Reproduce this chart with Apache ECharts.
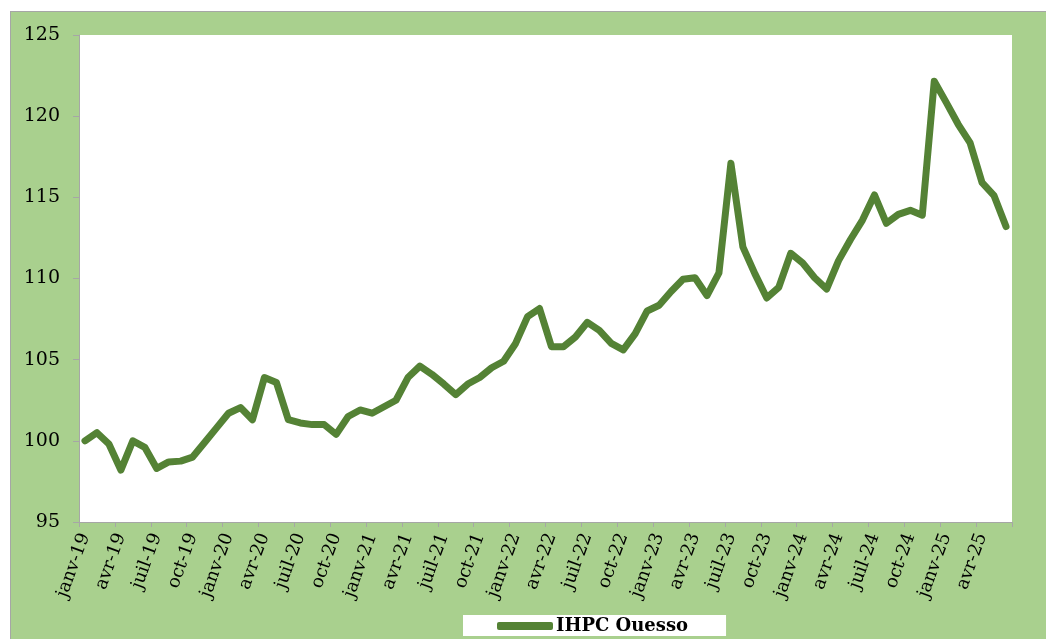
<!DOCTYPE html>
<html>
<head>
<meta charset="utf-8">
<script src="https://cdn.jsdelivr.net/npm/echarts@6/dist/echarts.min.js"></script>
<style>
  html, body { margin: 0; padding: 0; background: #ffffff; overflow: hidden; }
  #frame {
    position: absolute; left: 10px; top: 11px;
    width: 1100px; height: 700px;
    background: #a9d08e; border: 1px solid #a6a6a6;
  }
  #chart { position: absolute; left: 0; top: 0; width: 1046px; height: 639px; }
</style>
</head>
<body>
<div id="frame"></div>
<div id="chart"></div>
<script>
// ======================
// DONNÉES
// ======================
const MONTHS = ["janv", "févr", "mars", "avr", "mai", "juin",
                "juil", "août", "sept", "oct", "nov", "déc"];
const YEARS = ["19", "20", "21", "22", "23", "24", "25"];
const N_POINTS = 78; // janv-19 -> juin-25

// IHPC Ouesso (base 100 = janv-19)
const ihpcOuesso = [
    100.0, 100.5, 99.8, 98.2, 100.0, 99.6, 98.3, 98.7, 98.75, 99.0, 99.9, 100.8,
    101.7, 102.05, 101.3, 103.9, 103.6, 101.3, 101.1, 101.0, 101.0, 100.4, 101.5, 101.9,
    101.7, 102.1, 102.5, 103.9, 104.6, 104.1, 103.5, 102.85, 103.5, 103.9, 104.5, 104.9,
    106.0, 107.65, 108.15, 105.8, 105.8, 106.4, 107.3, 106.8, 106.0, 105.6, 106.6, 108.0,
    108.35, 109.2, 109.95, 110.05, 108.95, 110.35, 117.1, 111.95, 110.3, 108.8, 109.45, 111.55,
    110.95, 110.05, 109.35, 111.1, 112.4, 113.6, 115.15, 113.4, 113.95, 114.2, 113.9, 122.15,
    120.85, 119.5, 118.35, 115.9, 115.1, 113.2
];

const Y_MIN = 95;
const Y_MAX = 125;
const Y_STEP = 5;

const categories = [];
for (let i = 0; i < N_POINTS; i++) {
    categories.push(MONTHS[i % 12] + "-" + YEARS[Math.floor(i / 12)]);
}

// ======================
// STYLE
// ======================
const LINE_GREEN = "#548235";
const AXIS_GREY = "#a6a6a6";
const FONT = "'DejaVu Serif', 'Liberation Serif', serif";

const chart = echarts.init(document.getElementById("chart"));
chart.setOption({
    backgroundColor: "transparent",
    animation: false,
    grid: {
        left: 79,
        right: 34,
        top: 35,
        bottom: 117,
        show: true,
        backgroundColor: "#ffffff",
        borderWidth: 0
    },
    legend: {
        left: 463,
        top: 615,
        backgroundColor: "#ffffff",
        padding: [2, 38, 1, 34],
        itemWidth: 56,
        itemHeight: 8,
        itemGap: 0,
        data: [{
            name: "IHPC Ouesso",
            icon: "roundRect",
            itemStyle: { color: LINE_GREEN }
        }],
        textStyle: {
            fontFamily: FONT,
            fontWeight: "bold",
            fontSize: 18,
            lineHeight: 18,
            color: "#000000",
            padding: [0, 0, 0, -2]
        }
    },
    xAxis: {
        type: "category",
        data: categories,
        boundaryGap: true,
        axisLine: { lineStyle: { color: AXIS_GREY, width: 1 } },
        axisTick: {
            show: true,
            interval: 2,
            length: 5,
            lineStyle: { color: AXIS_GREY, width: 1 }
        },
        axisLabel: {
            interval: 2,
            rotate: 70,
            margin: 12,
            fontFamily: FONT,
            fontSize: 18,
            color: "#000000"
        },
        splitLine: { show: false }
    },
    yAxis: {
        type: "value",
        min: Y_MIN,
        max: Y_MAX,
        interval: Y_STEP,
        axisLine: { show: true, lineStyle: { color: AXIS_GREY, width: 1 } },
        axisTick: { show: true, length: 6, lineStyle: { color: AXIS_GREY } },
        axisLabel: {
            margin: 19,
            fontFamily: FONT,
            fontSize: 19,
            color: "#000000"
        },
        splitLine: { show: false }
    },
    series: [{
        name: "IHPC Ouesso",
        type: "line",
        data: ihpcOuesso,
        showSymbol: false,
        symbol: "none",
        lineStyle: {
            color: LINE_GREEN,
            width: 7,
            cap: "round",
            join: "round"
        },
        itemStyle: { color: LINE_GREEN }
    }]
});
</script>
</body>
</html>
